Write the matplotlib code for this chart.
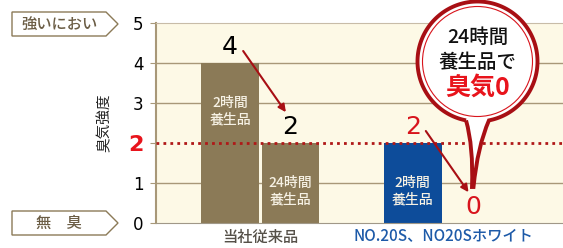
import numpy as np
import matplotlib.pyplot as plt
from matplotlib.patches import Polygon, PathPatch, Circle
from matplotlib.path import Path

plt.rcParams['font.family'] = ['Noto Sans CJK JP', 'DejaVu Sans']
plt.rcParams['font.weight'] = 'medium'

# data
groups = ['当社従来品', 'NO.20S、NO20Sホワイト']
group_colors = ['#555048', '#1d5aa8']
bar_x = [1.25, 2.27, 4.33, 5.35]
values = [4, 2, 2, 0]
bar_colors = ['#8b7a57', '#8b7a57', '#0d4c9a', '#0d4c9a']
bar_texts = ['2時間\n養生品', '24時間\n養生品', '2時間\n養生品', '']
value_colors = ['black', 'black', '#d8141c', '#d8141c']
yticks = [0, 1, 2, 3, 4, 5]

W, H = 563, 248
fig = plt.figure(figsize=(W / 100, H / 100), dpi=100)
ax = fig.add_axes([156 / W, 25 / H, (W - 156) / W, 200 / H])
ax.set_facecolor('#fdf9e6')
ax.set_xlim(0, (W - 156) / 59.3)
ax.set_ylim(0, 5)

grid_c = '#a89878'
for y in [1, 3, 4]:
    ax.axhline(y, color=grid_c, lw=1, zorder=1)

ax.bar(bar_x, values, width=0.97, color=bar_colors, zorder=2)
ax.axhline(2, color='#b01818', lw=2, ls=(0, (1, 1.5)), zorder=4)

for x, v, t in zip(bar_x, values, bar_texts):
    if t:
        ax.text(x, v - 1.2, t, ha='center', va='center', color='#f6f1e4',
                fontsize=10, linespacing=1.25, zorder=3)

for x, v, c in zip(bar_x, values, value_colors):
    ax.text(x, v + 0.4, str(v), ha='center', va='center', color=c,
            fontsize=18, family='DejaVu Sans', fontweight='normal', zorder=5)

# arrows 4 -> 2 and 2 -> 0
for i, j in [(0, 1), (2, 3)]:
    ax.annotate('', xy=(bar_x[j] - 0.08, values[j] + 0.77),
                xytext=(bar_x[i] + 0.22, values[i] + 0.3),
                arrowprops=dict(arrowstyle='-|>', color='#a80f14', lw=1.5,
                                mutation_scale=11, shrinkA=0, shrinkB=0),
                zorder=5)

ax.set_xticks([(bar_x[0] + bar_x[1]) / 2, (bar_x[2] + bar_x[3]) / 2])
ax.set_xticklabels(groups, fontsize=11)
for lbl, c in zip(ax.get_xticklabels(), group_colors):
    lbl.set_color(c)
ax.tick_params(axis='x', length=0, pad=4)

ax.set_yticks(yticks)
ax.set_yticklabels([str(t) for t in yticks], fontsize=12, family='DejaVu Sans',
                   fontweight='normal')
ax.tick_params(axis='y', length=4, color=grid_c, pad=5)
for lbl in ax.get_yticklabels():
    if lbl.get_text() == '2':
        lbl.set_color('#e8141c')
        lbl.set_fontweight('bold')
        lbl.set_fontsize(16)
ax.set_ylabel('臭気強度', fontsize=10.5, color='#222222', labelpad=12)

ax.spines['right'].set_visible(False)
ax.spines['left'].set_color(grid_c)
ax.spines['left'].set_linewidth(1.5)
ax.spines['top'].set_color('#c8bca8')
ax.spines['bottom'].set_color('#a09888')

# overlay in pixel coordinates
ov = fig.add_axes([0, 0, 1, 1], zorder=10)
ov.set_xlim(0, W)
ov.set_ylim(H, 0)
ov.axis('off')
ov.patch.set_alpha(0)

for yc, txt in [(24, '強いにおい'), (223, '無　臭')]:
    pts = [(12, yc - 12), (106, yc - 12), (118, yc), (106, yc + 12), (12, yc + 12)]
    ov.add_patch(Polygon(pts, closed=True, fc='white', ec='#8b7a57', lw=1))
    ov.text(59, yc, txt, ha='center', va='center', fontsize=11, color='#6b5d45')

# speech balloon (image coords, y down: bottom of circle is +90 deg)
cx, cy, r = 477.5, 61.5, 60
th = np.linspace(np.deg2rad(101), np.deg2rad(79 + 360), 160)
arc = np.column_stack([cx + r * np.cos(th), cy + r * np.sin(th)])
p_left = arc[0]
verts = list(arc) + [(cx + 0, cy + 85), (473.5, 187), (472, 187),
                     (cx - 4, cy + 85), tuple(p_left)]
codes = [Path.MOVETO] + [Path.LINETO] * (len(arc) - 1) + \
        [Path.CURVE3, Path.CURVE3, Path.LINETO, Path.CURVE3, Path.CURVE3]
ov.add_patch(PathPatch(Path(verts, codes), fc='white', ec='#a80f14', lw=2.8))
ov.add_patch(Circle((cx, cy), r - 5, fc='none', ec='#d8141c', lw=0.8))
ov.text(cx, 37, '24時間', ha='center', va='center', fontsize=14, color='#111111')
ov.text(cx, 62, '養生品で', ha='center', va='center', fontsize=14, color='#111111')
ov.text(cx, 88, '臭気0', ha='center', va='center', fontsize=18,
        color='#e8141c', fontweight='bold')

fig.savefig('out.png', dpi=100)
